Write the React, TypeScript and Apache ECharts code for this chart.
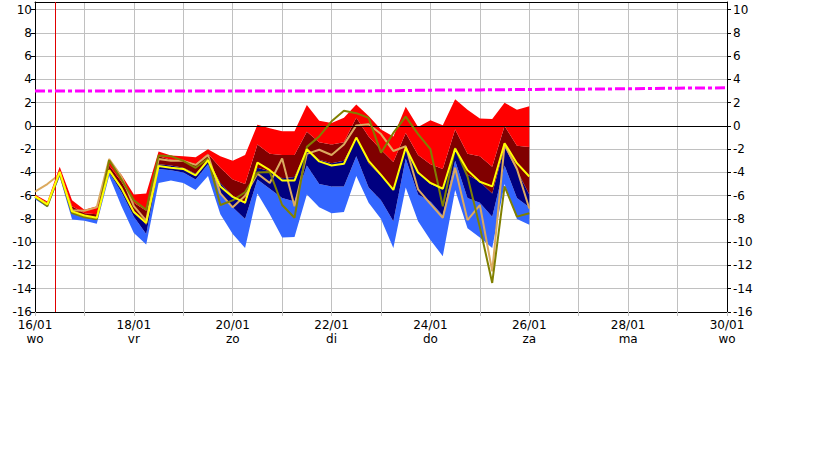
import React, { useEffect, useRef } from 'react';
import * as echarts from 'echarts';

// forecast hours since 16/01 00:00 (6-hourly)
const hours = [0, 6, 12, 18, 24, 30, 36, 42, 48, 54, 60, 66, 72, 78, 84, 90, 96, 102, 108, 114, 120, 126, 132, 138, 144, 150, 156, 162, 168, 174, 180, 186, 192, 198, 204, 210, 216, 222, 228, 234, 240];

// ensemble envelope (maximum) and percentile boundaries
const pMax = [-5.9, -6.5, -3.5, -6.4, -7.2, -6.9, -3.0, -4.2, -5.9, -5.8, -2.2, -2.55, -2.6, -2.7, -2.0, -2.6, -3.0, -2.5, 0.1, -0.2, -0.45, -0.45, 1.8, 0.45, 0.25, 0.7, 1.85, 0.85, -0.3, -0.9, 1.65, -0.1, 0.5, 0.05, 2.3, 1.4, 0.65, 0.6, 2.0, 1.4, 1.7];
const p75 = [-6.0, -6.6, -3.8, -6.9, -7.5, -7.6, -3.4, -4.8, -6.6, -7.3, -2.6, -2.9, -3.0, -3.3, -2.4, -3.6, -4.6, -5.0, -1.6, -2.4, -2.5, -2.5, -0.5, -1.4, -1.6, -1.4, 0.7, -0.9, -2.05, -3.1, -0.6, -2.5, -3.3, -3.7, -0.3, -2.4, -2.6, -3.5, 0.0, -1.7, -1.8];
const p50 = [-6.05, -6.7, -3.95, -7.3, -7.7, -7.9, -3.8, -5.3, -7.3, -8.5, -3.3, -3.4, -3.6, -4.1, -2.9, -4.9, -6.0, -6.7, -3.6, -3.9, -4.5, -4.4, -2.0, -2.9, -3.2, -3.0, -1.0, -3.2, -4.3, -5.5, -1.9, -4.0, -5.0, -5.4, -2.0, -4.2, -4.8, -5.8, -1.8, -3.8, -5.9];
const p25 = [-6.15, -6.8, -4.1, -7.5, -7.9, -8.1, -4.0, -5.7, -7.8, -9.3, -3.7, -3.8, -4.0, -4.6, -3.3, -5.8, -7.0, -8.0, -4.6, -5.4, -6.2, -6.5, -3.4, -5.0, -5.2, -5.2, -2.6, -5.3, -6.4, -8.2, -2.8, -5.9, -6.5, -7.7, -3.0, -6.2, -6.6, -7.8, -3.4, -6.2, -7.0];
const pMin = [-6.3, -7.0, -4.4, -8.05, -8.15, -8.4, -4.3, -6.9, -9.2, -10.2, -4.9, -4.7, -4.9, -5.5, -4.3, -7.6, -9.3, -10.5, -5.8, -7.6, -9.6, -9.55, -5.9, -7.0, -7.5, -7.4, -4.3, -6.6, -8.0, -10.5, -5.3, -8.2, -9.8, -11.2, -5.5, -8.8, -9.6, -10.5, -5.0, -8.0, -8.5];

// ensemble mean, operational run, control run
const ensMean = [-6.05, -6.75, -3.95, -7.35, -7.7, -7.9, -3.8, -5.35, -7.4, -8.35, -3.45, -3.6, -3.7, -4.25, -2.95, -5.2, -6.1, -6.6, -3.15, -3.8, -4.7, -4.7, -2.0, -3.05, -3.4, -3.25, -1.0, -3.0, -4.2, -5.5, -1.85, -4.0, -4.9, -5.4, -1.95, -3.8, -4.8, -5.2, -1.48, -3.2, -4.35];
const operRun = [-6.1, -6.9, -4.05, -7.5, -7.85, -8.0, -2.95, -4.6, -6.4, -7.2, -2.55, -2.6, -3.0, -3.6, -2.8, -6.8, -6.4, -5.7, -4.0, -3.95, -6.8, -7.9, -1.8, -0.9, 0.4, 1.3, 1.1, 0.7, -2.3, -0.6, 0.8, -0.7, -2.0, -6.9, -1.9, -4.35, -8.7, -13.5, -5.2, -7.8, -7.5];
const ctrlRun = [-5.65, -5.0, -4.15, -7.25, -7.3, -7.0, -2.85, -4.35, -6.9, -8.15, -2.85, -3.0, -3.0, -3.35, -2.5, -5.8, -7.0, -6.0, -4.1, -4.9, -2.8, -6.9, -2.4, -2.05, -2.5, -1.6, 0.05, 0.15, -0.7, -2.15, -1.75, -5.45, -6.7, -7.9, -3.6, -8.1, -6.8, -12.5, -1.6, -3.7, -7.1];

// climatological line (daily)
const climHours = [0, 24, 48, 72, 96, 120, 144, 168, 192, 216, 240, 264, 288, 312, 336];
const climValues = [3.0, 3.0, 3.0, 3.0, 3.0, 3.0, 3.0, 3.02, 3.08, 3.1, 3.14, 3.16, 3.2, 3.25, 3.28];

// axis labels
const tickDates = ['16/01', '17/01', '18/01', '19/01', '20/01', '21/01', '22/01', '23/01', '24/01', '25/01', '26/01', '27/01', '28/01', '29/01', '30/01'];
const tickDays = ['wo', 'do', 'vr', 'za', 'zo', 'ma', 'di', 'wo', 'do', 'vr', 'za', 'zo', 'ma', 'di', 'wo'];
const nowHour = 9.7;

const FONT = 'DejaVu Sans';

export default function App() {
  const ref = useRef<HTMLDivElement>(null);

  useEffect(() => {
    if (!ref.current) return;
    const chart = echarts.init(ref.current, undefined, { renderer: 'svg' });

    // value first, hour second: the stack is applied to dimension 0 (the value)
    const vpair = (vals: number[]) => hours.map((h, i) => [vals[i], h]);
    const vdiff = (a: number[], b: number[]) => hours.map((h, i) => [+(a[i] - b[i]).toFixed(3), h]);

    const band = (name: string, data: any, color: string | null) => ({
      name,
      type: 'line',
      stack: 'env',
      stackStrategy: 'all',
      data,
      encode: { x: 1, y: 0 },
      symbol: 'none',
      showSymbol: false,
      lineStyle: { opacity: 0, width: 0 },
      areaStyle: color ? { color, opacity: 1 } : undefined,
      silent: true,
      z: 2,
    });

    const line = (name: string, vals: number[], color: string, z: number) => ({
      name,
      type: 'line',
      data: hours.map((h, i) => [h, vals[i]]),
      symbol: 'none',
      showSymbol: false,
      lineStyle: { color, width: 2 },
      silent: true,
      z,
    });

    const yAxisBase = {
      type: 'value',
      min: -16,
      max: 10.66,
      interval: 2,
      axisLine: { show: true, onZero: false, lineStyle: { color: '#000', width: 1 } },
      axisTick: { show: true, length: 4, lineStyle: { color: '#000' } },
    };

    const yLabel = (v: number) => (Number.isInteger(v) && v % 2 === 0 ? String(v) : '');

    chart.setOption({
      animation: false,
      backgroundColor: '#ffffff',
      grid: { left: 35, right: 92, top: 2, bottom: 148, containLabel: false },
      xAxis: [
        {
          type: 'value',
          min: 0,
          max: 336,
          interval: 24,
          position: 'bottom',
          axisLine: { show: true, onZero: false, lineStyle: { color: '#000', width: 1 } },
          axisTick: { show: true, length: 4, lineStyle: { color: '#c0c0c0' } },
          splitLine: { show: true, lineStyle: { color: '#c0c0c0', width: 1 } },
          axisLabel: {
            margin: 6,
            color: '#000',
            fontFamily: FONT,
            fontSize: 12,
            lineHeight: 14,
            formatter: (v: number) => {
              const idx = Math.round(v / 24);
              if (idx % 2 !== 0 || idx < 0 || idx >= tickDates.length) return '';
              return tickDates[idx] + '\n' + tickDays[idx];
            },
          },
        },
        {
          type: 'value',
          min: 0,
          max: 336,
          position: 'top',
          axisLine: { show: true, onZero: false, lineStyle: { color: '#000', width: 1 } },
          axisTick: { show: false },
          axisLabel: { show: false },
          splitLine: { show: false },
        },
      ],
      yAxis: [
        {
          ...yAxisBase,
          position: 'left',
          splitLine: { show: true, lineStyle: { color: '#c0c0c0', width: 1 } },
          axisLabel: { margin: 3, color: '#000', fontFamily: FONT, fontSize: 12, showMaxLabel: false, formatter: yLabel },
        },
        {
          ...yAxisBase,
          position: 'right',
          splitLine: { show: false },
          axisLabel: { margin: 6, color: '#000', fontFamily: FONT, fontSize: 12, showMaxLabel: false, formatter: yLabel },
        },
      ],
      series: [
        band('min', vpair(pMin), null),
        band('p25', vdiff(p25, pMin), '#3366ff'),
        band('p50', vdiff(p50, p25), '#000080'),
        band('p75', vdiff(p75, p50), '#800000'),
        band('max', vdiff(pMax, p75), '#ff0000'),
        line('control', ctrlRun, '#dcaa5f', 4),
        line('operational', operRun, '#808000', 5),
        line('mean', ensMean, '#ffff00', 6),
        {
          name: 'climate',
          type: 'line',
          data: climHours.map((h, i) => [h, climValues[i]]),
          symbol: 'none',
          showSymbol: false,
          lineStyle: { color: '#ff00ff', width: 3, type: [10, 3, 4, 3] },
          silent: true,
          z: 7,
          markLine: {
            silent: true,
            symbol: 'none',
            label: { show: false },
            data: [
              { yAxis: 0, lineStyle: { color: '#000', width: 1, type: 'solid' } },
              { xAxis: nowHour, lineStyle: { color: '#e00000', width: 1, type: 'solid' } },
            ],
          },
        },
      ],
    });

    return () => chart.dispose();
  }, []);

  return (
    <div
      ref={ref}
      style={{ position: 'fixed', left: 0, top: 0, width: 819, height: 460, background: '#fff' }}
    />
  );
}
